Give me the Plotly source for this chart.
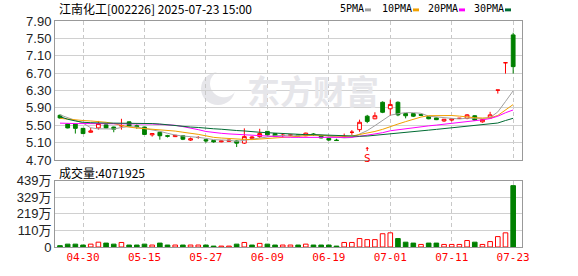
import plotly.graph_objects as go

# ---------------- data ----------------
dates = ["2025-04-25", "2025-04-28", "2025-04-29", "2025-04-30", "2025-05-06", "2025-05-07", "2025-05-08",
         "2025-05-09", "2025-05-12", "2025-05-13", "2025-05-14", "2025-05-15", "2025-05-16", "2025-05-19",
         "2025-05-20", "2025-05-21", "2025-05-22", "2025-05-23", "2025-05-26", "2025-05-27", "2025-05-28",
         "2025-05-29", "2025-05-30", "2025-06-03", "2025-06-04", "2025-06-05", "2025-06-06", "2025-06-09",
         "2025-06-10", "2025-06-11", "2025-06-12", "2025-06-13", "2025-06-16", "2025-06-17", "2025-06-18",
         "2025-06-19", "2025-06-20", "2025-06-23", "2025-06-24", "2025-06-25", "2025-06-26", "2025-06-27",
         "2025-06-30", "2025-07-01", "2025-07-02", "2025-07-03", "2025-07-04", "2025-07-07", "2025-07-08",
         "2025-07-09", "2025-07-10", "2025-07-11", "2025-07-14", "2025-07-15", "2025-07-16", "2025-07-17",
         "2025-07-18", "2025-07-21", "2025-07-22", "2025-07-23"]

opens = [5.73, 5.53, 5.53, 5.43, 5.34, 5.44, 5.51, 5.46, 5.49, 5.58,
         5.49, 5.46, 5.28, 5.34, 5.26, 5.24, 5.26, 5.16, 5.22, 5.17,
         5.15, 5.12, 5.13, 5.14, 5.09, 5.20, 5.24, 5.36, 5.31, 5.27,
         5.27, 5.28, 5.26, 5.30, 5.25, 5.20, 5.16, 5.24, 5.34, 5.40,
         5.71, 5.65, 6.03, 5.88, 6.03, 5.77, 5.77, 5.75, 5.70, 5.67,
         5.60, 5.62, 5.66, 5.66, 5.72, 5.58, 5.67, 6.31, 6.94, 7.58]
highs = [5.75, 5.54, 5.53, 5.43, 5.44, 5.60, 5.52, 5.47, 5.65, 5.59,
         5.52, 5.46, 5.32, 5.35, 5.28, 5.28, 5.27, 5.22, 5.25, 5.18,
         5.15, 5.15, 5.17, 5.15, 5.43, 5.25, 5.42, 5.37, 5.32, 5.32,
         5.29, 5.29, 5.33, 5.32, 5.26, 5.21, 5.19, 5.31, 5.39, 5.63,
         5.74, 5.80, 6.05, 6.09, 6.05, 5.77, 5.78, 5.76, 5.71, 5.68,
         5.64, 5.65, 5.67, 5.76, 5.73, 5.64, 5.81, 6.31, 6.94, 7.63]
lows = [5.65, 5.43, 5.31, 5.30, 5.33, 5.40, 5.43, 5.34, 5.40, 5.46,
        5.42, 5.28, 5.24, 5.17, 5.22, 5.23, 5.16, 5.14, 5.19, 5.10,
        5.10, 5.11, 5.12, 5.00, 5.07, 5.19, 5.21, 5.27, 5.23, 5.22,
        5.25, 5.25, 5.25, 5.26, 5.20, 5.14, 5.14, 5.22, 5.28, 5.35,
        5.55, 5.64, 5.78, 5.72, 5.71, 5.66, 5.69, 5.72, 5.64, 5.62,
        5.58, 5.59, 5.65, 5.64, 5.60, 5.56, 5.66, 6.23, 6.69, 6.69]
closes = [5.67, 5.44, 5.43, 5.31, 5.37, 5.54, 5.44, 5.41, 5.49, 5.48,
          5.47, 5.29, 5.31, 5.26, 5.25, 5.27, 5.18, 5.19, 5.22, 5.14,
          5.12, 5.14, 5.16, 5.09, 5.24, 5.23, 5.31, 5.28, 5.24, 5.27,
          5.28, 5.26, 5.32, 5.29, 5.21, 5.16, 5.15, 5.24, 5.34, 5.57,
          5.59, 5.72, 5.80, 5.98, 5.74, 5.72, 5.71, 5.73, 5.65, 5.63,
          5.64, 5.65, 5.66, 5.74, 5.62, 5.63, 5.74, 6.31, 6.94, 6.85]
volumes = [90000, 190000, 190000, 130000, 190000, 320000, 260000, 190000, 300000, 130000,
           130000, 190000, 130000, 260000, 130000, 130000, 130000, 130000, 130000, 130000,
           60000, 60000, 60000, 190000, 300000, 130000, 240000, 190000, 130000, 130000,
           130000, 130000, 190000, 130000, 130000, 130000, 60000, 300000, 300000, 560000,
           490000, 490000, 880000, 940000, 560000, 320000, 260000, 170000, 260000, 260000,
           170000, 170000, 170000, 430000, 320000, 170000, 360000, 690000, 940000, 4071925]

ma5 = [5.74, 5.68, 5.62, 5.55, 5.444, 5.418, 5.418, 5.414, 5.45, 5.472,
       5.458, 5.428, 5.408, 5.362, 5.316, 5.276, 5.254, 5.23, 5.222, 5.2,
       5.17, 5.162, 5.156, 5.13, 5.15, 5.172, 5.206, 5.23, 5.26, 5.266,
       5.276, 5.266, 5.274, 5.284, 5.272, 5.248, 5.226, 5.21, 5.22, 5.292,
       5.378, 5.492, 5.604, 5.732, 5.766, 5.792, 5.79, 5.776, 5.71, 5.688,
       5.672, 5.66, 5.646, 5.664, 5.662, 5.66, 5.678, 5.808, 6.048, 6.294]
ma10 = [5.66, 5.64, 5.62, 5.61, 5.60, 5.59, 5.57, 5.54, 5.50, 5.458,
        5.438, 5.423, 5.411, 5.406, 5.394, 5.367, 5.341, 5.319, 5.292, 5.258,
        5.223, 5.208, 5.193, 5.176, 5.175, 5.171, 5.184, 5.193, 5.195, 5.208,
        5.224, 5.236, 5.252, 5.272, 5.269, 5.262, 5.246, 5.242, 5.252, 5.282,
        5.313, 5.359, 5.407, 5.476, 5.529, 5.585, 5.641, 5.69, 5.721, 5.727,
        5.732, 5.725, 5.711, 5.687, 5.675, 5.666, 5.669, 5.727, 5.856, 5.978]
ma20 = [5.55, 5.54, 5.54, 5.54, 5.54, 5.54, 5.54, 5.54, 5.54, 5.54,
        5.54, 5.53, 5.53, 5.52, 5.51, 5.50, 5.47, 5.44, 5.40, 5.358,
        5.331, 5.316, 5.302, 5.291, 5.285, 5.269, 5.263, 5.256, 5.244, 5.233,
        5.224, 5.222, 5.223, 5.224, 5.222, 5.217, 5.215, 5.218, 5.224, 5.245,
        5.269, 5.298, 5.33, 5.374, 5.399, 5.424, 5.444, 5.466, 5.487, 5.505,
        5.523, 5.542, 5.559, 5.582, 5.602, 5.626, 5.655, 5.709, 5.789, 5.853]
ma30 = [5.70, 5.64, 5.60, 5.57, 5.56, 5.55, 5.55, 5.55, 5.55, 5.55,
        5.55, 5.54, 5.54, 5.53, 5.51, 5.49, 5.47, 5.46, 5.45, 5.43,
        5.42, 5.41, 5.39, 5.38, 5.37, 5.35, 5.34, 5.33, 5.32, 5.308,
        5.295, 5.289, 5.285, 5.285, 5.279, 5.267, 5.257, 5.251, 5.246, 5.249,
        5.253, 5.268, 5.284, 5.308, 5.324, 5.339, 5.357, 5.375, 5.389, 5.406,
        5.423, 5.44, 5.457, 5.478, 5.491, 5.504, 5.519, 5.553, 5.61, 5.662]

price_ticks = [4.70, 5.10, 5.50, 5.90, 6.30, 6.70, 7.10, 7.50, 7.90]
volume_ticks = [0, 1097500, 2195000, 3292500, 4390000]
volume_tick_labels = ["0", "110万", "219万", "329万", "439万"]
date_ticks = ["2025-04-30", "2025-05-15", "2025-05-27", "2025-06-09",
              "2025-06-19", "2025-07-01", "2025-07-11", "2025-07-23"]
ma_names = ["5PMA", "10PMA", "20PMA", "30PMA"]
stock_title = "江南化工[002226] 2025-07-23 15:00"
volume_title = "成交量:4071925"
signal_date = "2025-06-26"
watermark = "东方财富"

# ---------------- styling ----------------
RED = "#ff0000"
GREEN = "#008000"
MA_COLORS = ["#a0a0a0", "#f0a000", "#ff00ff", "#006b33"]
GRID = "#d0d0d0"
FRAME = "#999999"
W, H = 578, 276
ML, MR, MT, MB = 55, 56, 21, 21
PW, PH = W - ML - MR, H - MT - MB


def px_x(px):
    return (px - ML) / PW


def px_y(py):
    return (H - MB - py) / PH


n = len(dates)
groups = {"up": [], "down": [], "doji_up": [], "doji_down": []}
vol_up, vol_down = [], []
for i in range(n):
    prev = closes[i - 1] if i > 0 else opens[i]
    if closes[i] > opens[i]:
        groups["up"].append(i)
    elif closes[i] < opens[i]:
        groups["down"].append(i)
    elif closes[i] >= prev:
        groups["doji_up"].append(i)
    else:
        groups["doji_down"].append(i)
    (vol_up if closes[i] >= prev else vol_down).append(i)

fig = go.Figure()


def add_candles(idx, line_color, fill_color):
    if not idx:
        return
    style = dict(line=dict(color=line_color, width=1), fillcolor=fill_color)
    fig.add_trace(go.Candlestick(
        x=[dates[i] for i in idx], open=[opens[i] for i in idx], high=[highs[i] for i in idx],
        low=[lows[i] for i in idx], close=[closes[i] for i in idx],
        increasing=style, decreasing=style, whiskerwidth=0,
        showlegend=False, hoverinfo="skip", xaxis="x", yaxis="y"))


add_candles(groups["up"], RED, "#ffffff")
add_candles(groups["down"], GREEN, GREEN)
add_candles(groups["doji_up"], RED, RED)
add_candles(groups["doji_down"], GREEN, GREEN)

for name, vals, col in zip(ma_names, [ma5, ma10, ma20, ma30], MA_COLORS):
    fig.add_trace(go.Scatter(x=dates, y=vals, mode="lines", name=name,
                             line=dict(color=col, width=1), showlegend=False,
                             hoverinfo="skip", xaxis="x", yaxis="y"))

fig.add_trace(go.Bar(x=[dates[i] for i in vol_up], y=[volumes[i] for i in vol_up], width=0.6,
                     marker=dict(color="#ffffff", line=dict(color=RED, width=1)),
                     showlegend=False, hoverinfo="skip", xaxis="x2", yaxis="y2"))
fig.add_trace(go.Bar(x=[dates[i] for i in vol_down], y=[volumes[i] for i in vol_down], width=0.6,
                     marker=dict(color=GREEN, line=dict(color=GREEN, width=1)),
                     showlegend=False, hoverinfo="skip", xaxis="x2", yaxis="y2"))

xrange = [-0.65, n + 0.15]
xcommon = dict(type="category", categoryorder="array", categoryarray=dates, range=xrange,
               tickmode="array", tickvals=date_ticks, ticktext=[d[5:] for d in date_ticks],
               showgrid=True, gridcolor="#c8c8c8", griddash="4px,3px", gridwidth=1,
               showline=True, mirror=True, linecolor=FRAME, linewidth=1, ticks="",
               zeroline=False, fixedrange=True)
price_dom = [px_y(165), 1]
vol_dom = [0, px_y(186.5)]

annotations = [
    dict(text=stock_title, xref="paper", yref="paper", x=px_x(57), y=px_y(8.5),
         xanchor="left", yanchor="middle", showarrow=False,
         font=dict(family="Noto Sans CJK SC", size=12, color="#000000")),
    dict(text=volume_title, xref="paper", yref="paper", x=px_x(57), y=px_y(177.5),
         xanchor="left", yanchor="middle", showarrow=False,
         font=dict(family="Noto Sans CJK SC", size=12, color="#000000")),
    dict(text="<b>" + watermark + "</b>", xref="paper", yref="paper", x=px_x(313), y=px_y(92),
         xanchor="center", yanchor="middle", showarrow=False,
         font=dict(family="Noto Sans CJK SC", size=33, color="#e6e6ea")),
    # signal marker: "S" with a small up-arrow above it
    dict(text="S", xref="x", yref="y", x=signal_date, y=5.0, ax=0, ay=11,
         showarrow=True, arrowhead=1, arrowsize=0.6, arrowwidth=1, arrowcolor=RED,
         standoff=0, startstandoff=0, borderpad=0,
         font=dict(family="DejaVu Sans Mono", size=11, color=RED)),
]
shapes = [
    dict(type="circle", xref="paper", yref="paper", x0=px_x(201), x1=px_x(235), y0=px_y(108), y1=px_y(74),
         fillcolor="#e6e6ea", line=dict(width=0), layer="below"),
    dict(type="circle", xref="paper", yref="paper", x0=px_x(210), x1=px_x(238), y0=px_y(100), y1=px_y(72),
         fillcolor="#ffffff", line=dict(width=0), layer="below"),
]
legend_text_x = [338, 380, 426, 472]
legend_box_x = [365, 413, 459, 505]
for name, col, tx, bx in zip(ma_names, MA_COLORS, legend_text_x, legend_box_x):
    annotations.append(dict(text=name, xref="paper", yref="paper", x=px_x(tx), y=px_y(8.5),
                            xanchor="left", yanchor="middle", showarrow=False,
                            font=dict(family="DejaVu Sans Mono", size=10, color="#000000")))
    shapes.append(dict(type="rect", xref="paper", yref="paper", x0=px_x(bx), x1=px_x(bx + 6),
                       y0=px_y(11), y1=px_y(8), fillcolor=col, line=dict(width=0)))

fig.update_layout(
    width=W, height=H, margin=dict(l=ML, r=MR, t=MT, b=MB, pad=0),
    paper_bgcolor="#ffffff", plot_bgcolor="#ffffff",
    showlegend=False, barmode="overlay", boxgap=0.3, bargap=0.3,
    xaxis=dict(xcommon, anchor="y", showticklabels=False, rangeslider=dict(visible=False)),
    xaxis2=dict(xcommon, anchor="y2", showticklabels=True,
                tickfont=dict(family="DejaVu Sans Mono", size=11, color=RED)),
    yaxis=dict(domain=price_dom, range=[price_ticks[0], price_ticks[-1]], tickmode="array",
               tickvals=price_ticks, ticktext=["%.2f" % v for v in price_ticks],
               showgrid=True, gridcolor=GRID, gridwidth=1, zeroline=False,
               showline=True, mirror=True, linecolor=FRAME, linewidth=1, ticks="",
               tickfont=dict(family="Liberation Sans", size=13, color="#222222"), fixedrange=True),
    yaxis2=dict(domain=vol_dom, range=[volume_ticks[0], volume_ticks[-1]], tickmode="array",
                tickvals=volume_ticks, ticktext=volume_tick_labels,
                showgrid=True, gridcolor=GRID, gridwidth=1, zeroline=False,
                showline=True, mirror=True, linecolor=FRAME, linewidth=1, ticks="",
                tickfont=dict(family="Liberation Sans, Noto Sans CJK SC", size=13, color="#222222"),
                fixedrange=True),
    annotations=annotations, shapes=shapes,
)

fig.write_html("out.html", config={"displayModeBar": False})
